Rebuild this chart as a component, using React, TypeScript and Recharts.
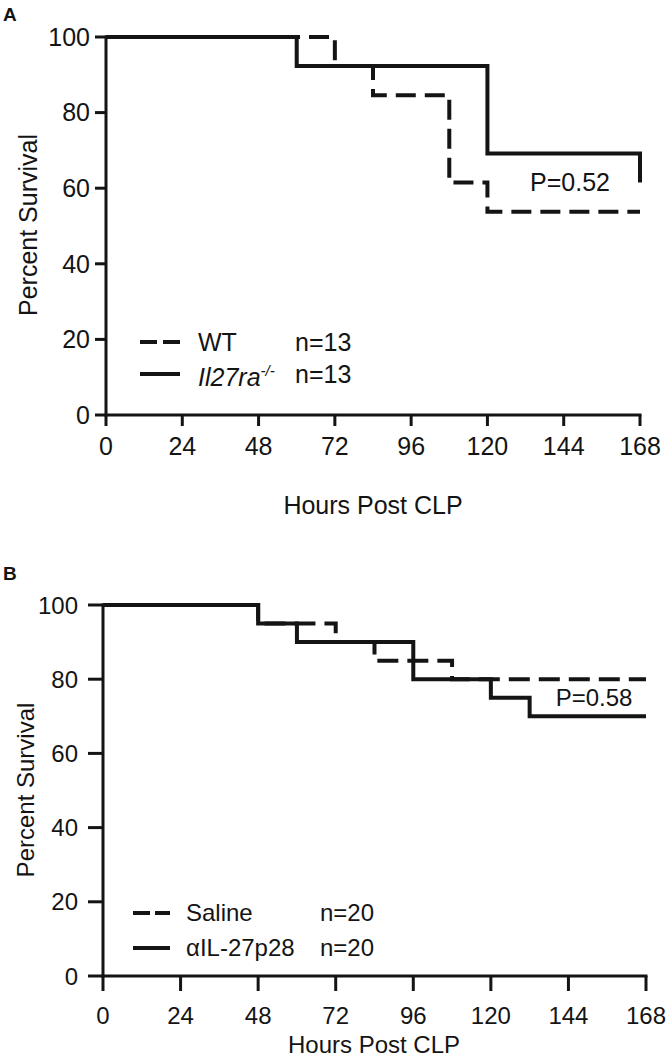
import React from "react";
import { LineChart, Line, XAxis, YAxis } from "recharts";

// Panel A: CLP survival, WT vs Il27ra-/-
const hoursWT = [0, 72, 84, 108, 120, 168];
const survWT = [100, 92.3, 84.6, 61.5, 53.8, 53.8];
const hoursKO = [0, 60, 120, 168, 168];
const survKO = [100, 92.3, 69.2, 69.2, 61.5];

// Panel B: saline vs anti-IL-27p28
const hoursSaline = [0, 48, 72, 84, 108, 168];
const survSaline = [100, 95, 90, 85, 80, 80];
const hoursAb = [0, 48, 60, 96, 120, 132, 168];
const survAb = [100, 95, 90, 80, 75, 70, 70];

const hourTicks = [0, 24, 48, 72, 96, 120, 144, 168];
const survTicks = [0, 20, 40, 60, 80, 100];

const ink = "#141414";
const font = '"Liberation Sans", Arial, Helvetica, sans-serif';

const toPoints = (t: number[], s: number[]) =>
  t.map((h, i) => ({ t: h, s: s[i] }));

function Txt({
  x,
  y,
  size,
  children,
  center,
  rotate,
  bold,
}: {
  x: number;
  y: number;
  size: number;
  children: React.ReactNode;
  center?: boolean;
  rotate?: boolean;
  bold?: boolean;
}) {
  let transform = center ? "translate(-50%,-50%)" : "translateY(-50%)";
  if (rotate) transform += " rotate(-90deg)";
  return (
    <div
      style={{
        position: "absolute",
        left: x,
        top: y,
        fontSize: size,
        lineHeight: `${size}px`,
        whiteSpace: "nowrap",
        fontWeight: bold ? 700 : 400,
        color: ink,
        transform,
      }}
    >
      {children}
    </div>
  );
}

function Sample({
  x,
  y,
  w,
  dash,
  sw,
}: {
  x: number;
  y: number;
  w: number;
  dash?: string;
  sw: number;
}) {
  return (
    <svg
      width={w}
      height={10}
      style={{ position: "absolute", left: x, top: y - 5 }}
    >
      <line
        x1={0}
        y1={5}
        x2={w}
        y2={5}
        stroke={ink}
        strokeWidth={sw}
        strokeDasharray={dash}
      />
    </svg>
  );
}

function SurvivalPanel({
  height,
  top,
  right,
  axisWidth,
  axisHeight,
  fontSize,
  tickLen,
  yTickGap,
  xTickGap,
  lineW,
  dash,
  dashedData,
  solidData,
}: {
  height: number;
  top: number;
  right: number;
  axisWidth: number;
  axisHeight: number;
  fontSize: number;
  tickLen: number;
  yTickGap: number;
  xTickGap: number;
  lineW: number;
  dash: string;
  dashedData: { t: number; s: number }[];
  solidData: { t: number; s: number }[];
}) {
  const axisStyle = { stroke: ink, strokeWidth: 3, strokeLinecap: "square" as const };
  return (
    <LineChart
      width={666}
      height={height}
      margin={{ top, right, left: 0, bottom: 0 }}
    >
      <XAxis
        type="number"
        dataKey="t"
        domain={[0, 168]}
        ticks={hourTicks}
        height={axisHeight}
        axisLine={axisStyle}
        tickLine={{ stroke: ink, strokeWidth: 3 }}
        tickSize={tickLen}
        tickMargin={xTickGap}
        tick={{ fontSize, fill: ink }}
        interval={0}
      />
      <YAxis
        type="number"
        domain={[0, 100]}
        ticks={survTicks}
        width={axisWidth}
        axisLine={axisStyle}
        tickLine={{ stroke: ink, strokeWidth: 3 }}
        tickSize={tickLen}
        tickMargin={yTickGap}
        tick={{ fontSize, fill: ink }}
        interval={0}
      />
      <Line
        data={dashedData}
        dataKey="s"
        type="stepAfter"
        stroke={ink}
        strokeWidth={lineW}
        strokeDasharray={dash}
        dot={false}
        isAnimationActive={false}
      />
      <Line
        data={solidData}
        dataKey="s"
        type="stepAfter"
        stroke={ink}
        strokeWidth={lineW}
        dot={false}
        isAnimationActive={false}
      />
    </LineChart>
  );
}

export default function App() {
  return (
    <div
      style={{
        position: "absolute",
        left: 0,
        top: 0,
        width: 666,
        height: 1058,
        background: "#fff",
        fontFamily: font,
        overflow: "hidden",
      }}
    >
      {/* Panel A */}
      <div style={{ position: "absolute", left: 0, top: 0 }}>
        <SurvivalPanel
          height={530}
          top={37}
          right={26}
          axisWidth={106}
          axisHeight={115}
          fontSize={25}
          tickLen={11}
          yTickGap={5}
          xTickGap={11}
          lineW={4}
          dash="20 9"
          dashedData={toPoints(hoursWT, survWT)}
          solidData={toPoints(hoursKO, survKO)}
        />
      </div>
      <Txt x={3} y={14} size={19} bold>
        A
      </Txt>
      <Txt x={28} y={225} size={25} center rotate>
        Percent Survival
      </Txt>
      <Txt x={373} y={505} size={25} center>
        Hours Post CLP
      </Txt>
      <Txt x={570} y={182} size={25} center>
        P=0.52
      </Txt>
      <Sample x={140} y={342} w={40} dash="17 6" sw={4} />
      <Sample x={140} y={374} w={40} sw={4} />
      <Txt x={198} y={342} size={25}>
        WT
      </Txt>
      <Txt x={198} y={374} size={25}>
        <i>Il27ra</i>
        <sup style={{ fontSize: 15, fontStyle: "italic" }}>-/-</sup>
      </Txt>
      <Txt x={295} y={342} size={25}>
        n=13
      </Txt>
      <Txt x={295} y={374} size={25}>
        n=13
      </Txt>

      {/* Panel B */}
      <div style={{ position: "absolute", left: 0, top: 540 }}>
        <SurvivalPanel
          height={518}
          top={65}
          right={20}
          axisWidth={103}
          axisHeight={82}
          fontSize={24}
          tickLen={15}
          yTickGap={10}
          xTickGap={16}
          lineW={4}
          dash="21 9"
          dashedData={toPoints(hoursSaline, survSaline)}
          solidData={toPoints(hoursAb, survAb)}
        />
      </div>
      <Txt x={3} y={573} size={19} bold>
        B
      </Txt>
      <Txt x={26} y={790} size={24} center rotate>
        Percent Survival
      </Txt>
      <Txt x={374} y={1045} size={24} center>
        Hours Post CLP
      </Txt>
      <Txt x={594} y={698} size={24} center>
        P=0.58
      </Txt>
      <Sample x={133} y={913} w={37} dash="17 5" sw={4} />
      <Sample x={133} y={948} w={37} sw={4} />
      <Txt x={186} y={913} size={24}>
        Saline
      </Txt>
      <Txt x={186} y={948} size={24}>
        αIL-27p28
      </Txt>
      <Txt x={320} y={913} size={24}>
        n=20
      </Txt>
      <Txt x={320} y={948} size={24}>
        n=20
      </Txt>
    </div>
  );
}
